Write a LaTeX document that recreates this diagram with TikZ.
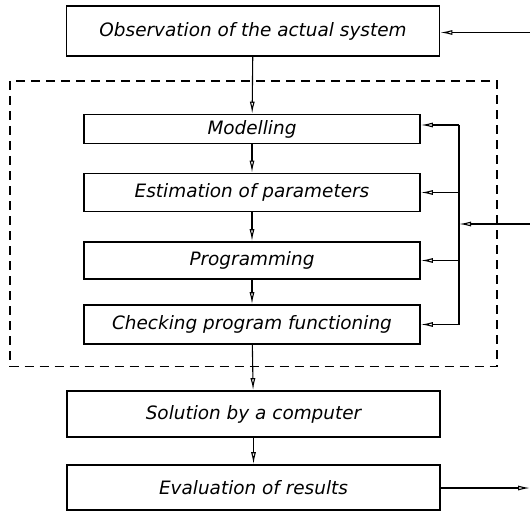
\documentclass[tikz,border=0pt]{standalone}
\usepackage{fontspec}
\setmainfont{DejaVu Sans}
\usetikzlibrary{positioning}
\usetikzlibrary{arrows.meta}
\tikzset{
	step box/.style={draw, line width=1.7bp, inner sep=0pt, minimum width=336bp, font=\fontsize{18.5}{20}\selectfont\itshape},
	main box/.style={step box, minimum width=373bp},
}

\begin{document}
\begin{tikzpicture}[x=1bp, y=-1bp]
		\useasboundingbox (0,0) rectangle (530,512);
		
		\node (obs) [main box, minimum height=50bp] at (253,31) {Observation of the actual system};
		
		\node (mod) [step box, minimum height=29bp] at (252,129) {Modelling};
		\node (est) [step box, minimum height=38bp] at (252,192.5) {Estimation of parameters};
		\node (prog) [step box, minimum height=37bp] at (252,260.5) {Programming};
		\node (check) [step box, minimum height=39bp] at (252,324.5) {Checking program functioning};
		
		\node (sol) [main box, minimum height=46bp] at (253.5,414) {Solution by a computer};
		\node (eval) [main box, minimum height=45bp] at (253.5,487.5) {Evaluation of results};
		
		% dashed frame round the model building steps
		\draw [line width=1.2bp, dash pattern=on 9bp off 6bp] (10,81) rectangle (497,366.5);
		
		\coordinate (inobs) at (530,32.5);
		\coordinate (infb) at (530,224);
		\coordinate (out) at (530,488);
		\coordinate (fbtop) at (459,125);
		\coordinate (fbbot) at (459,324.5);
		\coordinate (fbin) at (459,224);
		
		\begin{scope}[line width=1.1bp, black, -{Latex[open, length=12bp, width=5bp]}]
			\draw (obs) -- (mod);
			\draw (mod) -- (est);
			\draw (est) -- (prog);
			\draw (prog) -- (check);
			\draw (check) -- (sol);
			\draw (sol) -- (eval);
			\draw (eval.east |- out) -- (out);
			\draw (inobs) -- (obs.east |- inobs);
			\draw (infb) -- (fbin);
			\draw (fbtop) -- (mod.east |- fbtop);
			\draw (fbin |- est) -- (est);
			\draw (fbin |- prog) -- (prog);
			\draw (fbbot) -- (check);
		\end{scope}
		\draw [line width=1.1bp] (fbtop) -- (fbbot);
	\end{tikzpicture}
\end{document}
